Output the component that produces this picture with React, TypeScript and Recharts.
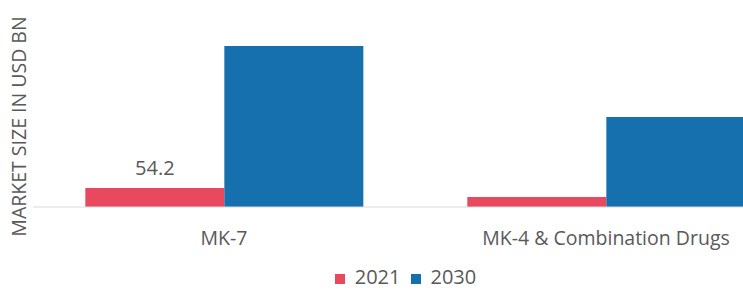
import { BarChart, Bar, XAxis, YAxis, Legend, LabelList } from 'recharts';

const categories = ['MK-7', 'MK-4 & Combination Drugs'];
const values2021 = [54.2, 28.5];
const values2030 = [460, 257];
const labels2021 = ['54.2', ''];

const data = categories.map((name, i) => ({
  name,
  y2021: values2021[i],
  y2030: values2030[i],
  label2021: labels2021[i],
}));

const FONT = '"Open Sans", sans-serif';
const TEXT = '#595959';

// rotated y axis title, placed from the axis viewBox
const YTitle = (props: any) => {
  const { viewBox } = props;
  const cx = viewBox.x + viewBox.width / 2 + 2;
  const cy = viewBox.y + viewBox.height / 2 + 7;
  return (
    <text
      x={cx}
      y={cy}
      transform={`rotate(-90 ${cx} ${cy})`}
      textAnchor="middle"
      dominantBaseline="central"
      fill={TEXT}
      fontSize={19.5}
      fontFamily={FONT}
    >
      MARKET SIZE IN USD BN
    </text>
  );
};

export default function App() {
  return (
    <div style={{ position: 'fixed', left: 0, top: 0, width: 743, height: 290, overflow: 'hidden', background: '#fff' }}>
      <BarChart
        width={797}
        height={290}
        data={data}
        margin={{ top: 32, right: 0, left: 0, bottom: 2 }}
        barCategoryGap="13.7%"
        barGap={0}
      >
        <XAxis
          dataKey="name"
          axisLine={{ stroke: '#d9d9d9' }}
          tickLine={false}
          tickSize={0}
          tickMargin={24}
          height={59}
          tick={{ fill: TEXT, fontSize: 19.5, fontFamily: FONT }}
          interval={0}
        />
        <YAxis
          width={33}
          domain={[0, 500]}
          axisLine={false}
          tickLine={false}
          tick={false}
          label={<YTitle />}
        />
        <Legend
          verticalAlign="bottom"
          align="center"
          iconType="square"
          iconSize={10}
          wrapperStyle={{ fontFamily: FONT, fontSize: 20, color: TEXT, lineHeight: '22px', paddingLeft: 12 }}
          formatter={(value) => <span style={{ color: TEXT, marginLeft: 6 }}>{value}</span>}
        />
        <Bar dataKey="y2021" name="2021" fill="#e8495f" isAnimationActive={false}>
          <LabelList dataKey="label2021" position="top" offset={13} fill={TEXT} fontSize={20} fontFamily={FONT} />
        </Bar>
        <Bar dataKey="y2030" name="2030" fill="#1570ad" isAnimationActive={false} />
      </BarChart>
    </div>
  );
}
